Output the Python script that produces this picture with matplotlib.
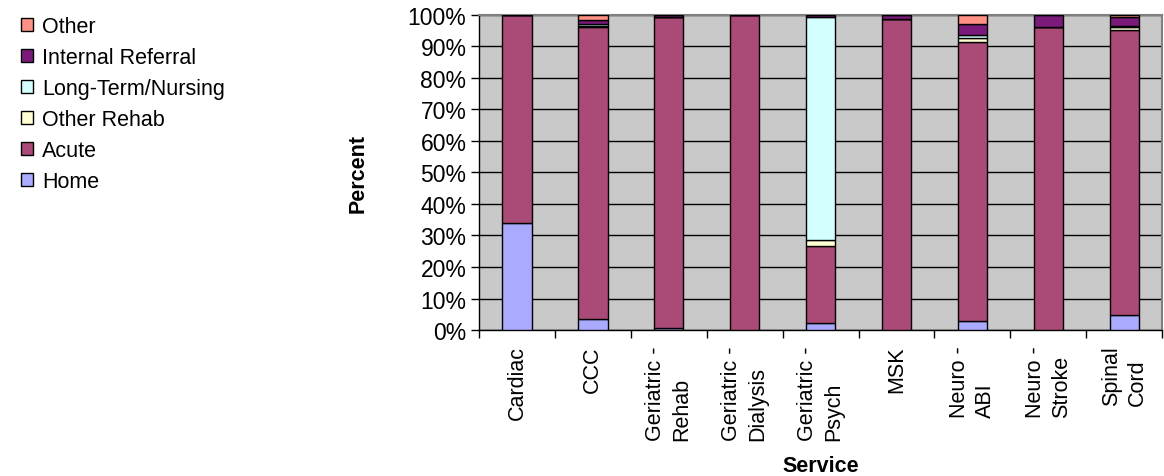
import matplotlib
matplotlib.use("Agg")
import matplotlib.pyplot as plt
import numpy as np

plt.rcParams['font.family'] = ['Liberation Sans', 'DejaVu Sans']

services = ['Cardiac', 'CCC', 'Geriatric -\nRehab', 'Geriatric -\nDialysis',
            'Geriatric -\nPsych', 'MSK', 'Neuro -\nABI', 'Neuro -\nStroke',
            'Spinal\nCord']

# share of discharges (%) by destination, bottom to top of each stack
home = [34.0, 3.5, 0.5, 0.0, 2.3, 0.0, 3.0, 0.0, 4.8]
acute = [66.0, 92.7, 98.7, 100.0, 24.4, 98.5, 88.5, 96.2, 90.4]
other_rehab = [0.0, 0.3, 0.0, 0.0, 1.7, 0.0, 1.0, 0.0, 1.0]
long_term = [0.0, 0.5, 0.0, 0.0, 70.9, 0.0, 1.0, 0.0, 0.3]
internal_ref = [0.0, 1.2, 0.8, 0.0, 0.7, 1.5, 3.5, 3.8, 2.8]
other = [0.0, 1.8, 0.0, 0.0, 0.0, 0.0, 3.0, 0.0, 0.7]

series = [
    ('Home', home, '#AAAAFF'),
    ('Acute', acute, '#A94A77'),
    ('Other Rehab', other_rehab, '#FFFFD2'),
    ('Long-Term/Nursing', long_term, '#D4FFFF'),
    ('Internal Referral', internal_ref, '#7A1A7A'),
    ('Other', other, '#FF9285'),
]

fs = 15.5
fig = plt.figure(figsize=(11.64, 4.77), dpi=100)
ax = fig.add_axes([0.4115, 0.306, 0.587, 0.661])
ax.set_facecolor('#C9C9C9')

x = np.arange(len(services))
bottom = np.zeros(len(services))
handles = []
for name, vals, col in series:
    vals = np.array(vals)
    b = ax.bar(x, vals, width=0.386, bottom=bottom, color=col,
               edgecolor='black', linewidth=1.0, label=name, zorder=3)
    handles.append(b)
    bottom += vals

ax.set_xlim(-0.5, len(services) - 0.5)
ax.set_ylim(0, 100)
ax.set_yticks(np.arange(0, 101, 10))
ax.set_yticklabels(['%d%%' % v for v in range(0, 101, 10)], fontsize=16.5)
ax.yaxis.grid(True, color='black', linewidth=1.0, zorder=1)
ax.set_axisbelow(True)

# category labels hang from the axis, lines start-aligned
ax.set_xticks(x)
ax.set_xticklabels(services, rotation=90, rotation_mode='anchor',
                   fontsize=15.5, ha='right', va='center',
                   multialignment='left', linespacing=1.3)
ax.tick_params(axis='x', which='major', length=0, pad=11)
ax.set_xticks(np.arange(-0.5, len(services)), minor=True)
ax.tick_params(axis='x', which='minor', length=6, width=1, color='black')
ax.tick_params(axis='y', length=6, width=1, color='black', pad=3)

for side in ['left', 'bottom']:
    ax.spines[side].set_color('black')
    ax.spines[side].set_linewidth(1.0)
for side in ['top', 'right']:
    ax.spines[side].set_color('#808080')
    ax.spines[side].set_linewidth(1.5)

ax.set_ylabel('Percent', fontsize=fs, fontweight='bold', labelpad=28)
ax.set_xlabel('Service', fontsize=fs, fontweight='bold', va='top')
ax.xaxis.set_label_coords(0.5, -0.395)

leg = fig.legend(handles[::-1], [s[0] for s in series][::-1],
                 loc='upper left', bbox_to_anchor=(0.006, 0.993),
                 frameon=False, fontsize=fs, handlelength=0.58,
                 handleheight=0.58, handletextpad=0.4, labelspacing=0.46,
                 borderaxespad=0.25)

fig.savefig('out.png', dpi=100)
